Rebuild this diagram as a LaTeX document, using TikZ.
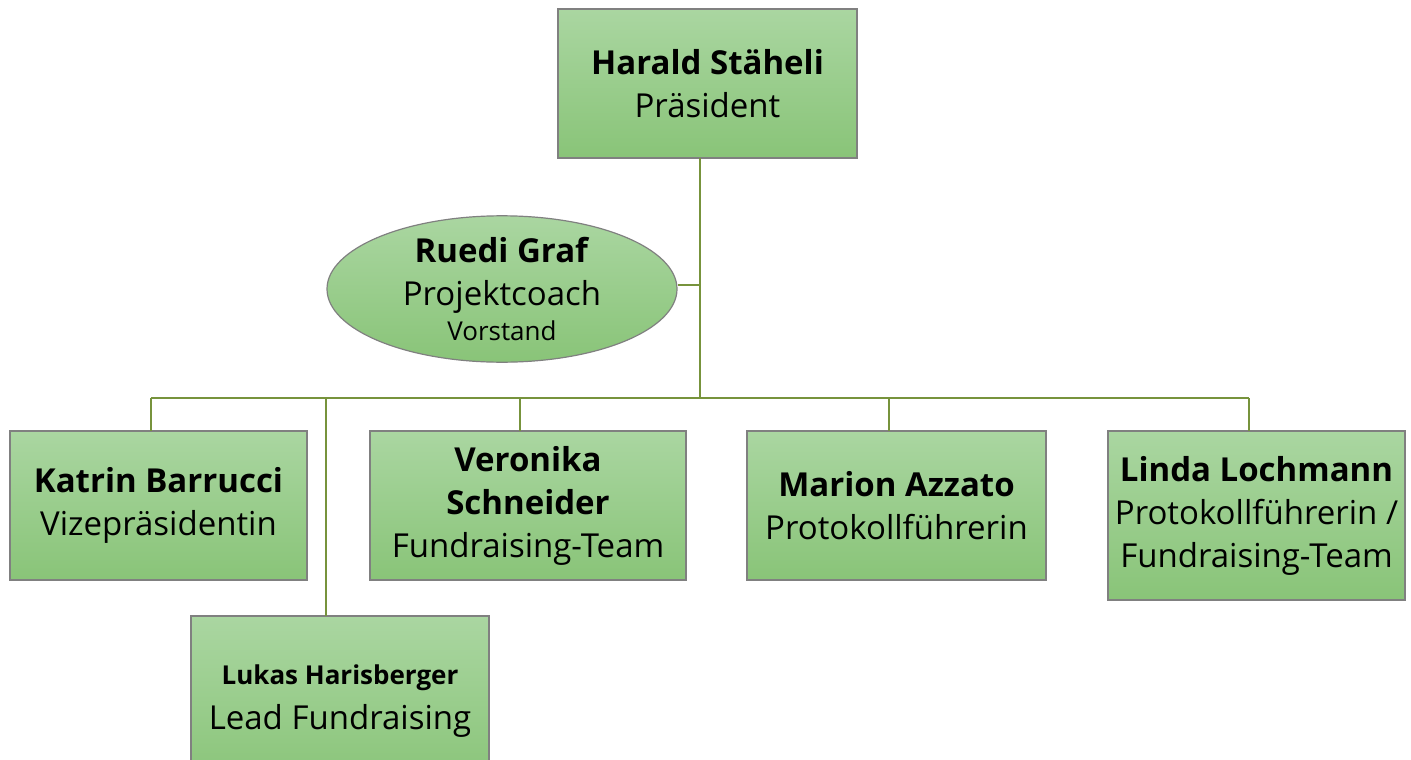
\documentclass[tikz,border=0pt]{standalone}
\usepackage{fontspec}
\setmainfont{Open Sans}
\usetikzlibrary{shapes.geometric}
\definecolor{gtop}{RGB}{170,214,161}
\definecolor{gbot}{RGB}{137,196,120}
\definecolor{edgegray}{RGB}{128,128,128}
\definecolor{linkgreen}{RGB}{119,147,60}
\tikzset{
  orgbox/.style={draw=edgegray, line width=1.2pt, top color=gtop, bottom color=gbot,
    align=center, inner sep=0pt, font=\fontsize{33}{43}\selectfont},
  orgoval/.style={orgbox, ellipse},
  link/.style={draw=linkgreen, line width=2pt}
}
\begin{document}
\begin{tikzpicture}[x=1pt,y=-1pt]
\clip (0,0) rectangle (1411,760);
\fill[white] (0,0) rectangle (1411,760);
% nodes
\node[orgbox, minimum width=299pt, minimum height=149pt] (top) at (707.5,83.5)
  {\textbf{Harald Stäheli}\\Präsident};
\node[orgoval, minimum width=350pt, minimum height=132pt] (ruedi) at (502,289)
  {\textbf{Ruedi Graf}\\Projektcoach\\[-8pt]{\fontsize{26}{30}\selectfont Vorstand}};
\node[orgbox, minimum width=297pt, minimum height=149pt] (katrin) at (158.5,505.5)
  {\textbf{Katrin Barrucci}\\Vizepräsidentin};
\node[orgbox, minimum width=316pt, minimum height=149pt] (veronika) at (528,505.5)
  {\textbf{Veronika}\\\textbf{Schneider}\\Fundraising-Team};
\node[orgbox, minimum width=299pt, minimum height=149pt] (marion) at (896.5,505.5)
  {\textbf{Marion Azzato}\\Protokollführerin};
\node[orgbox, minimum width=297pt, minimum height=169pt] (linda) at (1256.5,515.5)
  {\textbf{Linda Lochmann}\\Protokollführerin /\\Fundraising-Team};
\node[orgbox, minimum width=298pt, minimum height=170pt] (lukas) at (340,701)
  {{\fontsize{26}{30}\selectfont\textbf{Lukas Harisberger}}\\[2pt]Lead Fundraising};
% junctions
\coordinate (jtop) at (700,158);
\coordinate (je) at (700,285);
\coordinate (jbus) at (700,398);
\coordinate (jl) at (151,398);
\coordinate (jr) at (1249,398);
\coordinate (dk) at (151,431);
\coordinate (dl) at (326,616);
\coordinate (dv) at (520,431);
\coordinate (dm) at (889,431);
\coordinate (dn) at (1249,431);
% connectors
\draw[link] (jtop) -- (je) -- (jbus);
\draw[link] (je) -- (ruedi.east |- je);
\draw[link] (jl) -- (jr);
\draw[link] (jl) -- (dk);
\draw[link] (326,398) -- (dl);
\draw[link] (520,398) -- (dv);
\draw[link] (889,398) -- (dm);
\draw[link] (jr) -- (dn);
\end{tikzpicture}
\end{document}
